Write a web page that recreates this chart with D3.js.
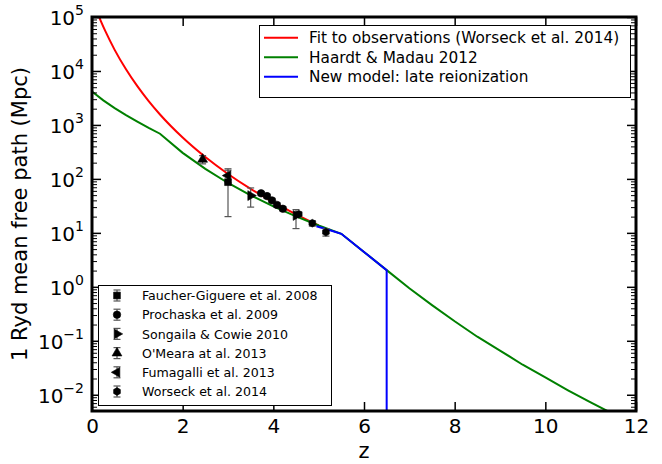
<!DOCTYPE html>
<html><head><meta charset="utf-8">
<script src="https://cdn.jsdelivr.net/npm/d3@7"></script>
<style>
body{margin:0;background:#fff}
svg{display:block}
text{font-family:"DejaVu Sans",sans-serif;fill:#000}
</style>
</head><body><svg id="c" width="662" height="464"></svg>
<script>
// ---------- data ----------
const xTicks = [0, 2, 4, 6, 8, 10, 12];
const yDecades = [-2, -1, 0, 1, 2, 3, 4, 5];

// Fit to observations (Worseck et al. 2014)
const redZ = [0.15, 0.2, 0.3, 0.5, 0.75, 1.0, 1.25, 1.5, 2.0, 2.5, 3.0, 3.5, 4.0, 4.5, 5.0];
const redV = [103400, 82100, 53400, 24600, 10730, 5220, 2760, 1562, 584, 254, 123.5, 65.4, 37, 22.1, 13.8];

// Haardt & Madau 2012
const greenZ = [0, 0.25, 0.5, 0.75, 1.0, 1.25, 1.5, 2.0, 2.5, 3.0, 3.5, 4.0, 4.5, 5.0, 5.5, 6.0, 6.5, 7.0, 7.5, 8.0, 8.5, 9.0, 9.5, 10.0, 10.5, 11.0, 11.5];
const greenV = [4150, 2850, 2050, 1520, 1150, 880, 687, 304, 153, 84, 49.6, 31, 20.2, 13.7, 9.6, 4.43, 2.04, 0.94, 0.459, 0.23, 0.119, 0.066, 0.036, 0.0209, 0.0121, 0.0072, 0.0044];

// New model: late reionization
const blueZ = [4.95, 5.25, 5.5, 6.0, 6.5, 6.5];
const blueV = [13.3, 11.2, 9.6, 4.43, 2.04, 0.001];

const lineNames = ["Fit to observations (Worseck et al. 2014)", "Haardt & Madau 2012", "New model: late reionization"];
const lineColors = ["#ff0000", "#008000", "#0000ff"];

// observational points: z, value, lower error, upper error
const fgZ = [3.0], fgV = [87], fgLo = [67], fgHi = [67];
const prZ = [3.73, 3.86, 3.97, 4.08, 4.21], prV = [54, 48, 40, 33, 28], prLo = [4, 4, 3.5, 3, 2.5], prHi = [4, 4, 3.5, 3, 2.5];
const scZ = [3.5, 4.5], scV = [49, 21], scLo = [19, 9], scHi = [19, 6];
const omZ = [2.44], omV = [230], omLo = [40], omHi = [40];
const fuZ = [3.0], fuV = [115], fuLo = [30], fuHi = [30];
const woZ = [4.56, 4.86, 5.16], woV = [22.2, 15.1, 10.3], woLo = [2.3, 1.8, 1.6], woHi = [2.3, 1.8, 1.6];

const pointNames = ["Faucher-Giguere et al. 2008", "Prochaska et al. 2009", "Songaila & Cowie 2010", "O'Meara at al. 2013", "Fumagalli et al. 2013", "Worseck et al. 2014"];
const pointShapes = ["square", "circle", "tright", "tup", "tleft", "hex"];

// ---------- chart ----------
const W = 662, H = 464;
const L = 92, R = 636, T = 17, B = 411;
const svg = d3.select("#c");
svg.append("rect").attr("width", W).attr("height", H).attr("fill", "#fff");

const x = d3.scaleLinear().domain([0, 12]).range([L, R]);
const y = d3.scaleLog().domain([5e-3, 1e5]).range([B, T]);

svg.append("defs").append("clipPath").attr("id", "clip")
  .append("rect").attr("x", L).attr("y", T).attr("width", R - L).attr("height", B - T);

const plot = svg.append("g").attr("clip-path", "url(#clip)");

const series = [
  {z: redZ, v: redV, curve: d3.curveMonotoneX},
  {z: greenZ, v: greenV, curve: d3.curveLinear},
  {z: blueZ, v: blueV, curve: d3.curveLinear}
];
series.forEach((s, i) => {
  const pts = s.z.map((z, k) => [z, s.v[k]]);
  const line = d3.line().x(d => x(d[0])).y(d => y(d[1])).curve(s.curve);
  plot.append("path").attr("d", line(pts)).attr("fill", "none")
    .attr("stroke", lineColors[i]).attr("stroke-width", 2);
});

// marker drawing
function drawMarker(sel, shape, cx, cy) {
  let p;
  if (shape === "square") {
    p = sel.append("path").attr("d", d3.symbol(d3.symbolSquare, 46)());
  } else if (shape === "circle") {
    p = sel.append("path").attr("d", d3.symbol(d3.symbolCircle, 44)());
  } else if (shape === "tup" || shape === "tleft" || shape === "tright") {
    p = sel.append("path").attr("d", d3.symbol(d3.symbolTriangle, 42)());
  } else {
    const r = 3.9;
    const hex = d3.range(6).map(k => {
      const a = Math.PI / 2 + k * Math.PI / 3;
      return [r * Math.cos(a), -r * Math.sin(a)];
    });
    p = sel.append("path").attr("d", "M" + hex.join("L") + "Z");
  }
  const rot = shape === "tright" ? 90 : shape === "tleft" ? -90 : 0;
  p.attr("transform", `translate(${cx},${cy}) rotate(${rot})`).attr("fill", "#000").attr("stroke", "#000").attr("stroke-width", 0.6);
}
function drawErr(sel, cx, y1, y2) {
  const c = "#555";
  sel.append("line").attr("x1", cx).attr("x2", cx).attr("y1", y1).attr("y2", y2).attr("stroke", c).attr("stroke-width", 1.2);
  [y1, y2].forEach(yy => sel.append("line").attr("x1", cx - 3.5).attr("x2", cx + 3.5).attr("y1", yy).attr("y2", yy).attr("stroke", c).attr("stroke-width", 1.2));
}

const pointSets = [
  [fgZ, fgV, fgLo, fgHi], [prZ, prV, prLo, prHi], [scZ, scV, scLo, scHi],
  [omZ, omV, omLo, omHi], [fuZ, fuV, fuLo, fuHi], [woZ, woV, woLo, woHi]
];
const pg = svg.append("g").attr("clip-path", "url(#clip)");
pointSets.forEach((ps, i) => {
  const [zs, vs, lo, hi] = ps;
  zs.forEach((z, k) => drawErr(pg, x(z), y(vs[k] + hi[k]), y(vs[k] - lo[k])));
});
pointSets.forEach((ps, i) => {
  const [zs, vs] = ps;
  zs.forEach((z, k) => drawMarker(pg, pointShapes[i], x(z), y(vs[k])));
});

// ---------- axes ----------
const minorVals = [];
for (let e = -3; e <= 4; e++) for (let m = 2; m <= 9; m++) {
  const v = m * Math.pow(10, e);
  if (v >= 5e-3 && v <= 1e5) minorVals.push(v);
}
const majorVals = yDecades.map(e => Math.pow(10, e));

function styleAxis(g, w) {
  g.select(".domain").remove();
  g.selectAll(".tick line").attr("stroke", "#000").attr("stroke-width", w);
}
// bottom
const gx = svg.append("g").attr("transform", `translate(0,${B})`)
  .call(d3.axisBottom(x).tickValues(xTicks).tickSize(-9).tickPadding(7.5).tickFormat(d3.format("d")));
styleAxis(gx, 1.5);
gx.selectAll(".tick text").attr("font-size", 20).attr("font-family", "DejaVu Sans").attr("fill", "#000");
// top
const gxt = svg.append("g").attr("transform", `translate(0,${T})`)
  .call(d3.axisTop(x).tickValues(xTicks).tickSize(-9).tickFormat(""));
styleAxis(gxt, 1.5);
// left major
const gy = svg.append("g").attr("transform", `translate(${L},0)`)
  .call(d3.axisLeft(y).tickValues(majorVals).tickSize(-9).tickPadding(8));
styleAxis(gy, 1.5);
gy.selectAll(".tick text").each(function(d, i) {
  const t = d3.select(this);
  const e = Math.round(Math.log10(d));
  t.text(null).attr("dy", null).attr("y", 7.5).attr("x", -8).attr("font-size", 20)
    .attr("font-family", "DejaVu Sans").attr("fill", "#000").attr("text-anchor", "end");
  t.append("tspan").text("10");
  t.append("tspan").attr("dy", -10).attr("font-size", 14).text(e < 0 ? "\u2212" + (-e) : String(e));
});
// left minor
const gym = svg.append("g").attr("transform", `translate(${L},0)`)
  .call(d3.axisLeft(y).tickValues(minorVals).tickSize(-5).tickFormat(""));
styleAxis(gym, 1);
// right major / minor
const gyr = svg.append("g").attr("transform", `translate(${R},0)`)
  .call(d3.axisRight(y).tickValues(majorVals).tickSize(-9).tickFormat(""));
styleAxis(gyr, 1.5);
const gyrm = svg.append("g").attr("transform", `translate(${R},0)`)
  .call(d3.axisRight(y).tickValues(minorVals).tickSize(-5).tickFormat(""));
styleAxis(gyrm, 1);

// frame
svg.append("rect").attr("x", L).attr("y", T).attr("width", R - L).attr("height", B - T)
  .attr("fill", "none").attr("stroke", "#000").attr("stroke-width", 3);

// titles
svg.append("text").attr("x", (L + R) / 2).attr("y", 458).attr("text-anchor", "middle")
  .attr("font-size", 21).text("z");
svg.append("text").attr("transform", `translate(27,${(T + B) / 2}) rotate(-90)`)
  .attr("text-anchor", "middle").attr("font-size", 21).text("1 Ryd mean free path (Mpc)");

// ---------- legend 1 (lines) ----------
const lg1 = svg.append("g");
lg1.append("rect").attr("x", 259.5).attr("y", 25.5).attr("width", 371).attr("height", 72)
  .attr("fill", "#fff").attr("stroke", "#000").attr("stroke-width", 1);
lineNames.forEach((n, i) => {
  const yy = 37.7 + i * 19.5;
  lg1.append("line").attr("x1", 264).attr("x2", 298).attr("y1", yy).attr("y2", yy)
    .attr("stroke", lineColors[i]).attr("stroke-width", 2);
  lg1.append("text").attr("x", 309).attr("y", yy + 5.6).attr("font-size", 15.3).text(n);
});

// ---------- legend 2 (points) ----------
const lg2 = svg.append("g");
lg2.append("rect").attr("x", 98.5).attr("y", 285.5).attr("width", 233).attr("height", 120)
  .attr("fill", "#fff").attr("stroke", "#000").attr("stroke-width", 1);
pointNames.forEach((n, i) => {
  const yy = 295.5 + i * 19.2;
  drawErr(lg2, 117, yy - 5.5, yy + 5.5);
  drawMarker(lg2, pointShapes[i], 117, yy);
  lg2.append("text").attr("x", 142).attr("y", yy + 4.6).attr("font-size", 12.6).text(n);
});
</script>
</body></html>
